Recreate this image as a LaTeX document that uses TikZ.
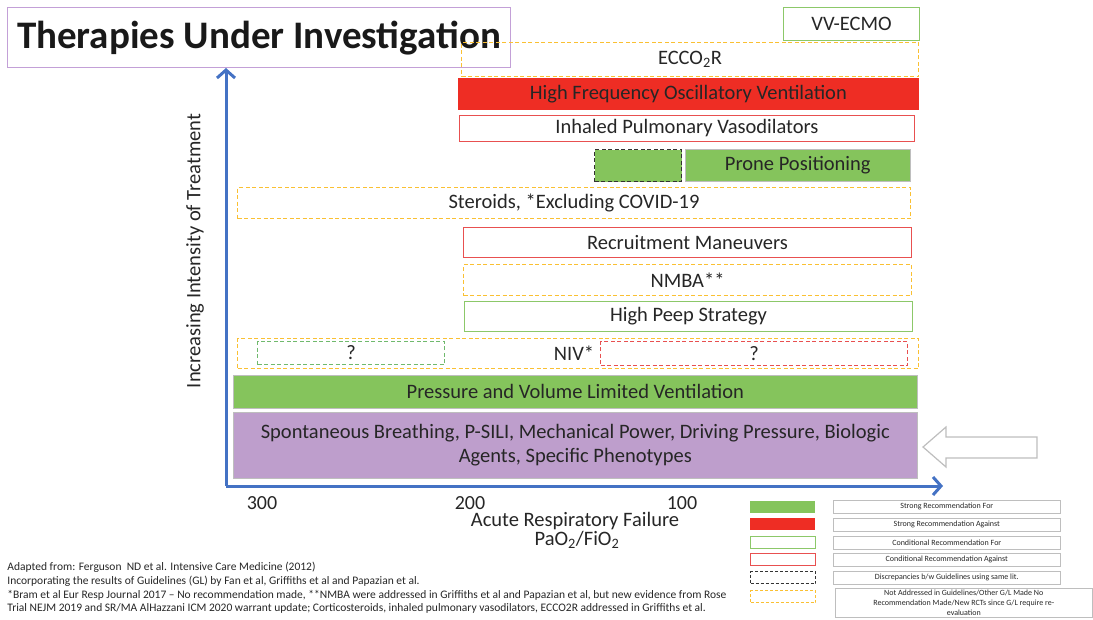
\documentclass[tikz,border=0pt]{standalone}
\usepackage{fontspec}
\setmainfont{Carlito}
\usetikzlibrary{arrows.meta,positioning}
\definecolor{ink}{RGB}{38,38,38}
\definecolor{strongfor}{RGB}{133,196,92}
\definecolor{strongagainst}{RGB}{238,45,36}
\definecolor{condfor}{RGB}{140,200,105}
\definecolor{condagainst}{RGB}{232,80,80}
\definecolor{unaddr}{RGB}{250,192,50}
\definecolor{basefill}{RGB}{190,158,204}
\definecolor{titleedge}{RGB}{195,160,215}
\definecolor{axisblue}{RGB}{68,114,196}
\definecolor{edge}{RGB}{190,190,190}
\tikzset{
  every picture/.style={x=1pt, y=-1pt, color=ink, line width=0.8pt},
  sz/.style 2 args={minimum width=#1pt, minimum height=#2pt},
  box/.style={anchor=north west, inner sep=0pt, align=center, text=ink, font=\fontsize{20.5}{24}\selectfont},
  sfor/.style={box, fill=strongfor, draw=edge, line width=0.6pt},
  sagainst/.style={box, fill=strongagainst, draw=strongagainst},
  cfor/.style={box, fill=white, draw=condfor, line width=1pt},
  cagainst/.style={box, fill=white, draw=condagainst, line width=1pt},
  unknown/.style={box, draw=unaddr, line width=1pt, dash pattern=on 4pt off 2.5pt},
  disc/.style={box, draw=black!80, line width=1pt, dash pattern=on 4pt off 2.5pt},
  base/.style={box, fill=basefill, draw=edge, line width=0.6pt},
  axisline/.style={draw=axisblue, line width=3pt, -{Straight Barb[length=8pt,width=18pt]}},
  lbl/.style={text=ink, inner sep=1pt, font=\fontsize{20.5}{24}\selectfont},
  swatch/.style={anchor=north west, inner sep=0pt, minimum width=65pt, minimum height=12pt},
  keybox/.style={anchor=north west, inner sep=0pt, draw=edge, line width=0.6pt, minimum width=227pt, minimum height=13pt, align=center, font=\fontsize{8}{9.8}\selectfont},
  note/.style={anchor=north west, inner sep=0pt, align=left, font=\fontsize{11.5}{13.7}\selectfont},
}

\begin{document}
\begin{tikzpicture}
  \useasboundingbox (0,0) rectangle (1093,619);
  % title
  \node[box, sz={503}{60}, draw=titleedge, line width=1.2pt, text=black!90, font=\fontsize{39}{42}\selectfont\bfseries] (title) at (7,7) {Therapies Under Investigation};
  % axes
  \coordinate (origin) at (226,486);
  \coordinate (ytop) at (226,68);
  \coordinate (xend) at (943,486);
  \draw[axisline] (origin) -- (ytop);
  \draw[axisline] (origin) -- (xend);
  \node[lbl, rotate=90] (ylab) at (195,251) {Increasing Intensity of Treatment};
  \node[lbl, font=\fontsize{20}{24}\selectfont] (t300) at (262,503) {300};
  \node[lbl, font=\fontsize{20}{24}\selectfont] (t200) at (470,503) {200};
  \node[lbl, font=\fontsize{20}{24}\selectfont] (t100) at (682,503) {100};
  \node[lbl] (xlab) at (575,521) {Acute Respiratory Failure};
  \node[lbl] (ratio) at (577,540) {PaO\textsubscript{2}/FiO\textsubscript{2}};
  % therapies
  \node[cfor, sz={136}{33}] (ecmo) at (783,7) {VV-ECMO};
  \node[unknown, sz={457}{34}] (eccor) at (461,42) {ECCO\textsubscript{2}R};
  \node[sagainst, sz={460}{31}] (hfov) at (458,78) {High Frequency Oscillatory Ventilation};
  \node[cagainst, sz={455}{26}] (ipv) at (459,115) {Inhaled Pulmonary Vasodilators};
  \node[disc, sz={87}{32}, fill=strongfor] (pronedisc) at (594,149) {};
  \node[sfor, sz={225}{32}] (prone) at (685,149) {Prone Positioning};
  \node[unknown, sz={673}{31}] (steroids) at (237,187) {Steroids, *Excluding COVID-19};
  \node[cagainst, sz={448}{30}] (recruit) at (463,227) {Recruitment Maneuvers};
  \node[unknown, sz={448}{31}] (nmba) at (463,264) {NMBA**};
  \node[cfor, sz={448}{30}] (peep) at (464,301) {High Peep Strategy};
  \node[unknown, sz={681}{30}] (niv) at (237,338) {};
  \node[box, sz={187}{23}, draw=condfor!80!teal, line width=1pt, dash pattern=on 4pt off 2.5pt] (nivfor) at (257,341) {?};
  \node[box, sz={307}{24}, draw=condagainst, line width=1pt, dash pattern=on 4pt off 2.5pt] (nivagainst) at (600,341) {?};
  \node[lbl] (nivlbl) at (574,353) {NIV*};
  \node[sfor, sz={684}{33}] (pvlv) at (233,375) {Pressure and Volume Limited Ventilation};
  \node[base, sz={684}{66}] (spont) at (233,412) {Spontaneous Breathing, P-SILI, Mechanical Power, Driving Pressure, Biologic\\Agents, Specific Phenotypes};
  % pointer arrow
  \draw[draw=edge, fill=white, line width=1.2pt, line join=miter] (923,447) -- (946,427) -- (946,437) -- (1037,437) -- (1037,458) -- (946,458) -- (946,467) -- cycle;
  % legend
  \node[swatch, fill=strongfor] (k1) at (750,501) {};
  \node[swatch, fill=strongagainst] (k2) at (750,518) {};
  \node[swatch, draw=condfor, line width=1pt] (k3) at (750,536) {};
  \node[swatch, draw=condagainst, line width=1pt] (k4) at (750,553) {};
  \node[swatch, draw=black!80, line width=1pt, dash pattern=on 3pt off 2pt] (k5) at (750,571) {};
  \node[swatch, draw=unaddr, line width=1pt, dash pattern=on 3pt off 2pt] (k6) at (750,590) {};
  \node[keybox] (d1) at (833,500) {Strong Recommendation For};
  \node[keybox] (d2) at (833,518) {Strong Recommendation Against};
  \node[keybox] (d3) at (833,536) {Conditional Recommendation For};
  \node[keybox] (d4) at (833,553) {Conditional Recommendation Against};
  \node[keybox] (d5) at (833,571) {Discrepancies b/w Guidelines using same lit.};
  \node[keybox, minimum width=257pt, minimum height=29pt] (d6) at (835,588) {Not Addressed in Guidelines/Other G/L Made No\\Recommendation Made/New RCTs since G/L require re-\\evaluation};
  % sources
  \node[note] (sources) at (7,562) {Adapted from: Ferguson\ \ ND et al. Intensive Care Medicine (2012)\\
    Incorporating the results of Guidelines (GL) by Fan et al, Griffiths et al and Papazian et al.\\
    *Bram et al Eur Resp Journal 2017 – No recommendation made, **NMBA were addressed in Griffiths et al and Papazian et al, but new evidence from Rose\\
    Trial NEJM 2019 and SR/MA AlHazzani ICM 2020 warrant update; Corticosteroids, inhaled pulmonary vasodilators, ECCO2R addressed in Griffiths et al.};
\end{tikzpicture}
\end{document}
